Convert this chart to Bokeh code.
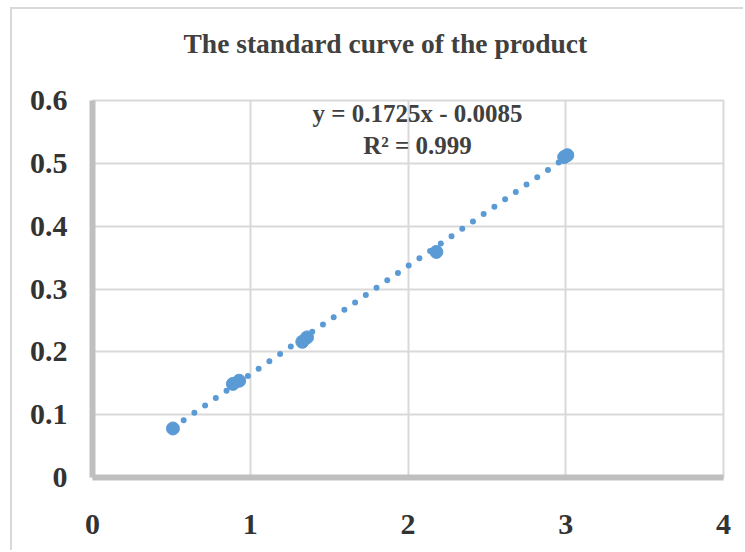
from bokeh.plotting import figure
from bokeh.models import Label, FixedTicker, ColumnDataSource, Title
from bokeh.embed import file_html
from bokeh.resources import INLINE

# Standard curve measurements (concentration vs. absorbance), with replicates
conc = [0.51, 0.89, 0.93, 1.33, 1.36, 2.18, 2.99, 3.01]
absorb = [0.078, 0.149, 0.154, 0.216, 0.223, 0.359, 0.510, 0.513]

# Linear fit reported on the chart
slope = 0.1725
intercept = -0.0085
r_squared = 0.999

x_ticks = [0, 1, 2, 3, 4]
y_ticks = [0, 0.1, 0.2, 0.3, 0.4, 0.5, 0.6]
y_tick_labels = {0: "0", 0.1: "0.1", 0.2: "0.2", 0.3: "0.3", 0.4: "0.4", 0.5: "0.5", 0.6: "0.6"}

BLUE = "#5b9bd5"
GRID = "#d9d9d9"
TEXT = "#404040"
FONT = "Liberation Serif"

p = figure(width=733, height=543, x_range=(0, 4), y_range=(0, 0.6),
           output_backend="svg", toolbar_location=None,
           min_border_left=80, min_border_right=22,
           min_border_top=91, min_border_bottom=75,
           styles={"margin-left": "10px", "margin-top": "7px",
                   "border-left": "2px solid #d9d9d9",
                   "border-top": "2px solid #d9d9d9"})
p.background_fill_color = "white"
p.border_fill_color = "white"
p.outline_line_color = GRID
p.outline_line_width = 2

# Blank band between the plot frame and the title
p.add_layout(Title(text=" ", text_font_size="2px", standoff=36), "above")

p.title.text = "The standard curve of the product"
p.title.align = "left"
p.title.vertical_align = "top"
p.title.offset = 91
p.title.standoff = 0
p.title.text_font = FONT
p.title.text_font_style = "bold"
p.title.text_font_size = "27.5px"
p.title.text_color = TEXT

for ax in (p.xaxis, p.yaxis):
    ax.axis_line_color = "#bfbfbf"
    ax.axis_line_width = 6
    ax.major_tick_line_color = None
    ax.minor_tick_line_color = None
    ax.major_tick_out = 0
    ax.major_tick_in = 0
    ax.major_label_text_font = FONT
    ax.major_label_text_font_style = "bold"
    ax.major_label_text_font_size = "30px"
    ax.major_label_text_color = "#333333"

p.xaxis.ticker = FixedTicker(ticks=x_ticks)
p.yaxis.ticker = FixedTicker(ticks=y_ticks)
p.yaxis.major_label_overrides = y_tick_labels
p.xaxis.major_label_standoff = 37
p.yaxis.major_label_standoff = 25

p.xgrid.ticker = FixedTicker(ticks=x_ticks)
p.ygrid.ticker = FixedTicker(ticks=y_ticks)
for g in (p.xgrid, p.ygrid):
    g.grid_line_color = GRID
    g.grid_line_width = 2

# Dotted linear trendline over the measured range
x0, x1 = min(conc), max(conc)
trend = ColumnDataSource(dict(x=[x0, x1], y=[slope * x0 + intercept, slope * x1 + intercept]))
p.line("x", "y", source=trend, line_color=BLUE, line_width=6,
       line_dash="0 13", line_cap="round")

p.scatter(conc, absorb, size=13, color=BLUE, line_color=BLUE)

# Fit equation
eq = f"y = {slope}x - {abs(intercept)}"
p.add_layout(Label(x=2.06, y=0.579, text=eq, text_align="center", text_baseline="middle",
                   text_font=FONT, text_font_style="bold", text_font_size="25px",
                   text_color=TEXT))
p.add_layout(Label(x=2.06, y=0.528, text=f"R\u00b2 = {r_squared}", text_align="center",
                   text_baseline="middle", text_font=FONT, text_font_style="bold",
                   text_font_size="25px", text_color=TEXT))

open("out.html", "w").write(file_html(p, INLINE))
